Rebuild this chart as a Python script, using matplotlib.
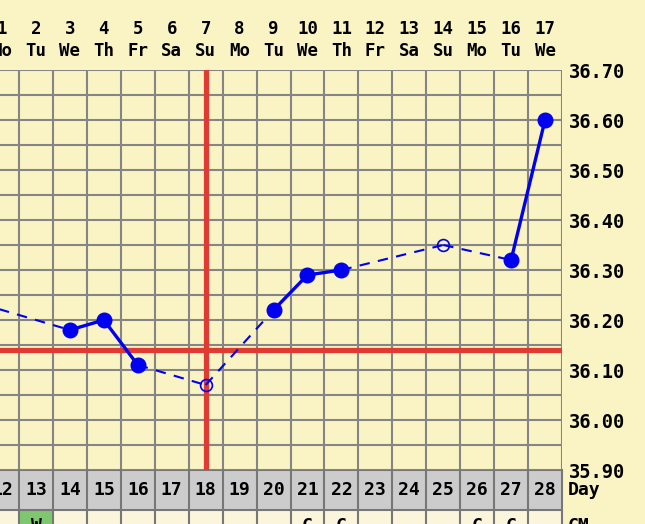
import matplotlib
matplotlib.use("Agg")
import matplotlib.pyplot as plt
import numpy as np
from matplotlib.transforms import blended_transform_factory
from matplotlib.patches import Rectangle

plt.rcParams['font.family'] = ['DejaVu Sans Mono']
plt.rcParams['font.weight'] = 'bold'

# Data
cycle_days = list(range(12, 29))
day_numbers = list(range(1, 18))
weekdays = ["Mo", "Tu", "We", "Th", "Fr", "Sa", "Su", "Mo", "Tu", "We",
            "Th", "Fr", "Sa", "Su", "Mo", "Tu", "We"]

temp_days = [11, 14, 15, 16, 18, 20, 21, 22, 25, 27, 28]
temps = [36.24, 36.18, 36.20, 36.11, 36.07, 36.22, 36.29, 36.30, 36.35, 36.32, 36.60]
excluded = [False, False, False, False, True, False, False, False, True, False, False]

coverline = 36.14
ovulation_day = 18

cm_days = [13, 21, 22, 26, 27]
cm_codes = ["W", "C", "C", "C", "C"]
cm_highlight_day = 13

# Colors
bg = "#FAF3C4"
grid_col = "#858585"
red = "#E03B33"
blue = "#0000F0"

W, H = 645, 524
fig = plt.figure(figsize=(W / 100, H / 100), dpi=100, facecolor=bg)

# pixel layout
left_px, right_px, top_px, bot_px = 0, 562, 70, 470
col_w = (562 - 19) / 16.0
x_left = 12.5 - 19 / col_w
x_right = 28.5

ax = fig.add_axes([left_px / W, 1 - bot_px / H, (right_px - left_px) / W, (bot_px - top_px) / H])
ax.set_facecolor(bg)
ax.set_xlim(x_left, x_right)
ax.set_ylim(35.90, 36.70)

# grid lines drawn explicitly (column borders and every 0.05 degree)
for xv in np.arange(12.5, 28.6, 1.0):
    ax.axvline(xv, color=grid_col, lw=1.5, zorder=1)
for yv in np.arange(35.90, 36.701, 0.05):
    ax.axhline(yv, color=grid_col, lw=1.5, zorder=1)
for s in ax.spines.values():
    s.set_visible(False)

# top labels (cycle day number + weekday)
ax.xaxis.tick_top()
ax.set_xticks(cycle_days)
ax.set_xticklabels([f"{n}\n{w}" for n, w in zip(day_numbers, weekdays)],
                   fontsize=12.5, linespacing=1.3)
ax.tick_params(axis='x', which='both', length=0, pad=7)

# right temperature labels
ax.yaxis.tick_right()
yt = np.arange(35.90, 36.701, 0.10)
ax.set_yticks(yt)
ax.set_yticklabels([f"{v:.2f}" for v in yt], fontsize=13.5)
ax.tick_params(axis='y', which='both', length=0, pad=5)

# coverline and ovulation line
ax.axhline(coverline, color=red, lw=3.8, zorder=3)
ax.axvline(ovulation_day, color=red, lw=3.8, zorder=3)

# temperature line segments
for i in range(len(temp_days) - 1):
    d0, d1 = temp_days[i], temp_days[i + 1]
    solid = (d1 - d0 == 1) and not excluded[i] and not excluded[i + 1]
    if solid:
        ax.plot([d0, d1], [temps[i], temps[i + 1]], color=blue, lw=2.4, zorder=4,
                solid_capstyle='round')
    else:
        ax.plot([d0, d1], [temps[i], temps[i + 1]], color=blue, lw=1.5, zorder=4,
                linestyle=(0, (5, 4)))

for d, t, ex in zip(temp_days, temps, excluded):
    if ex:
        ax.plot(d, t, 'o', ms=8.5, mfc='none', mec=blue, mew=1.2, zorder=5)
    else:
        ax.plot(d, t, 'o', ms=10.5, color=blue, zorder=5)

# bottom rows: day numbers and cervical mucus
bax = fig.add_axes([left_px / W, 1 - 550 / H, (right_px - left_px) / W, 80 / H])
bax.set_xlim(x_left, x_right)
bax.set_ylim(2, 0)
bax.axis('off')
bax.add_patch(Rectangle((x_left, 0), x_right - x_left, 1, color="#CCCCCC", lw=0))
bax.add_patch(Rectangle((x_left, 1), x_right - x_left, 1, color="#FBF5DC", lw=0))
bax.add_patch(Rectangle((cm_highlight_day - 0.5, 1), 1, 1, color="#7FC76E", lw=0))
for xv in np.arange(12.5, 28.6, 1.0):
    bax.plot([xv, xv], [0, 2], color="#777777", lw=1.5, clip_on=False)
bax.plot([x_left, x_right], [1, 1], color="#777777", lw=1.5)
bax.plot([x_left, x_right], [0, 0], color="#777777", lw=1.5)
for d in cycle_days:
    bax.text(d, 0.5, str(d), ha='center', va='center', fontsize=13)
for d, c in zip(cm_days, cm_codes):
    bax.text(d, 1.18, c, ha='center', va='top', fontsize=13)
bax.text(1.01, 0.5, "Day", transform=blended_transform_factory(bax.transAxes, bax.transData),
         ha='left', va='center', fontsize=13)
bax.text(1.01, 1.18, "CM", transform=blended_transform_factory(bax.transAxes, bax.transData),
         ha='left', va='top', fontsize=13)

fig.savefig("out.png", dpi=100, facecolor=bg)
